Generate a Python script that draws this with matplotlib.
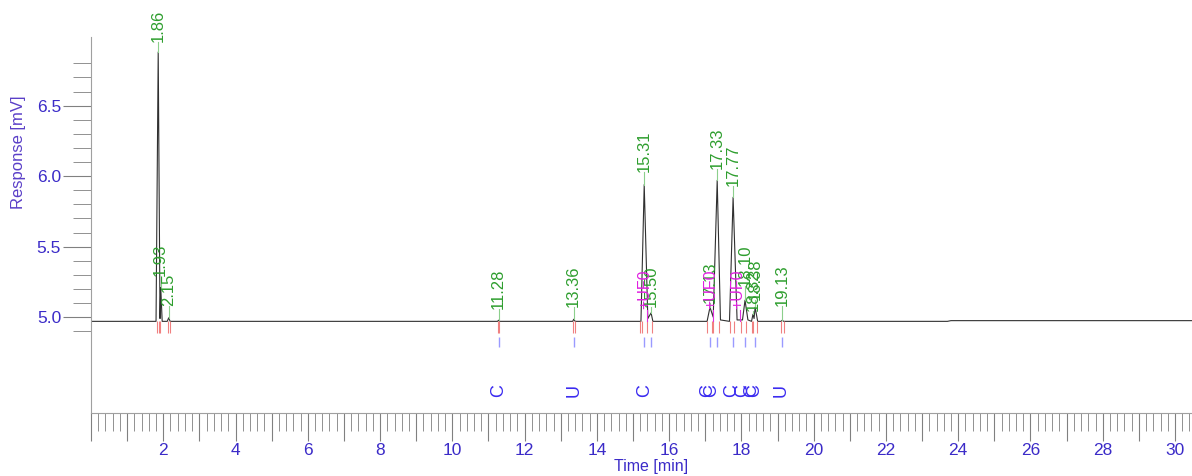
import numpy as np
import matplotlib.pyplot as plt
from matplotlib.ticker import MultipleLocator, FuncFormatter

plt.rcParams['font.family'] = ['Liberation Sans', 'DejaVu Sans']

# chromatogram trace (time [min], response [mV])
trace_t = [0.0, 1.80, 1.86, 1.91, 1.93, 1.97, 2.11, 2.15, 2.19,
           11.25, 11.28, 11.31, 13.33, 13.36, 13.40,
           15.22, 15.31, 15.41, 15.50, 15.55,
           17.05, 17.13, 17.22, 17.33, 17.42, 17.67, 17.77, 17.88,
           18.03, 18.10, 18.18, 18.28, 18.32, 18.35, 18.38, 18.45,
           19.10, 19.13, 19.17, 23.70, 23.80, 30.47]
trace_y = [4.97, 4.97, 6.88, 4.99, 5.21, 4.97, 4.97, 4.995, 4.97,
           4.97, 4.978, 4.97, 4.97, 4.985, 4.97,
           4.97, 5.94, 4.99, 5.03, 4.97,
           4.97, 5.07, 5.00, 5.97, 4.98, 4.97, 5.85, 4.98,
           4.98, 5.12, 4.98, 4.97, 5.02, 4.99, 5.07, 4.97,
           4.97, 4.978, 4.97, 4.97, 4.975, 4.975]

# peak labels
peak_rt = [1.86, 1.93, 2.15, 11.28, 13.36, 15.31, 15.50, 17.13, 17.33,
           17.77, 18.10, 18.32, 18.38, 19.13]
peak_top = [6.88, 5.21, 4.995, 4.978, 4.985, 5.94, 5.03, 5.07, 5.97,
            5.85, 5.12, 5.02, 5.07, 4.978]
label_y = [6.95, 5.29, 5.08, 5.06, 5.07, 6.03, 5.07, 5.10, 6.05,
           5.93, 5.22, 5.04, 5.12, 5.08]

# integration marks
red_marks = [1.82, 1.87, 1.92, 2.12, 2.18, 11.26, 11.30, 13.34, 13.39,
             15.20, 15.26, 15.39, 15.52, 17.05, 17.19, 17.22, 17.39,
             17.69, 17.80, 17.98, 18.13, 18.29, 18.33, 18.42, 19.09, 19.18]
blue_marks = [11.28, 13.36, 15.31, 15.50, 17.13, 17.33, 17.77, 18.10, 18.38, 19.13]
code_rt = [11.28, 13.36, 15.31, 17.06, 17.17, 17.74, 18.02, 18.27, 18.37, 19.10]
code_txt = ['C', 'U', 'C', 'C', 'C', 'C', 'C', 'C', 'C', 'U']
event_rt = [15.38, 17.20, 17.96]
event_txt = ['+UF0', '+UF0', '+UF0']

tick_col = '#3b2bc8'
fig = plt.figure(figsize=(11.92, 4.76), dpi=100)
ax = fig.add_axes([91 / 1192, 63 / 476, 1101 / 1192, 413 / 476])

ax.plot(trace_t, trace_y, color='#303030', lw=0.8)

for rt, top, ly, in zip(peak_rt, peak_top, label_y):
    ax.plot([rt, rt], [top, ly], color='#8ccf8c', lw=0.8)
    ax.text(rt, ly, f'{rt:.2f}', rotation=90, ha='center', va='bottom',
            color='#2e9e2e', fontsize=12)

ax.vlines(red_marks, 4.89, 4.97, color='#f08080', lw=0.8)
ax.vlines(blue_marks, 4.79, 4.86, color='#9a9aff', lw=1.0)
for rt, c in zip(code_rt, code_txt):
    ax.text(rt, 4.48, c, rotation=90, ha='center', va='center',
            color='#3b2bf0', fontsize=13)
for rt, c in zip(event_rt, event_txt):
    ax.plot([rt, rt], [4.97, 5.05], color='#e030e0', lw=0.8)
    ax.text(rt - 0.05, 5.06, c, rotation=90, ha='center', va='bottom',
            color='#e020e0', fontsize=11.5)

ax.set_xlim(0, 30.47)
ax.set_ylim(4.32, 4.32 + 413 / 141)

for s in ['top', 'right']:
    ax.spines[s].set_visible(False)
for s in ['left', 'bottom']:
    ax.spines[s].set_color('#a0a0a0')
ax.spines['left'].set_bounds(4.32, 6.99)

ax.xaxis.set_major_locator(MultipleLocator(1))
ax.xaxis.set_minor_locator(MultipleLocator(0.2))
ax.xaxis.set_major_formatter(FuncFormatter(
    lambda v, p: f'{v:.0f}' if round(v) % 2 == 0 and v > 0.5 else ''))
ax.set_yticks([5.0, 5.5, 6.0, 6.5])
ax.set_yticks(np.arange(4.9, 6.85, 0.1), minor=True)
ax.yaxis.set_major_formatter(FuncFormatter(lambda v, p: f'{v:.1f}'))

ax.tick_params(which='major', length=20, color='#808080', labelcolor=tick_col,
               labelsize=12.5, pad=1.5)
ax.tick_params(which='minor', length=13, color='#808080')

ax.set_xlabel('Time [min]', color=tick_col, fontsize=11.5)
ax.xaxis.set_label_coords(0.509, -0.112)
ax.set_ylabel('Response [mV]', color='#5a3fc8', fontsize=12)
ax.yaxis.set_label_coords(-0.059, 0.632)

fig.savefig('out.png', dpi=100)
